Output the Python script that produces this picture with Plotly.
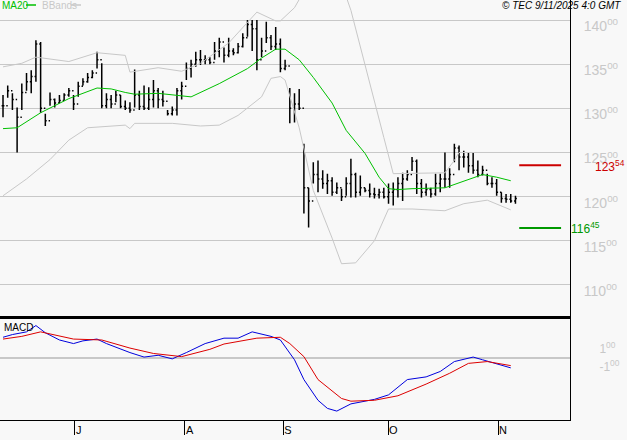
import plotly.graph_objects as go

# OHLC bars, one per trading day (index 0 = mid June)
highs = [131.5, 132.6, 131.7, 130.1, 132.8, 134.0, 134.3, 137.7, 137.5, 129.4,
         131.8, 131.1, 131.5, 131.7, 132.3, 131.5, 133.0, 133.4, 134.0, 134.3,
         136.4, 135.1, 131.7, 131.5, 132.0, 131.5, 130.9, 130.7, 134.4, 132.0,
         132.6, 132.4, 133.2, 132.3, 132.0, 129.8, 130.2, 132.3, 133.0, 135.2,
         135.5, 136.4, 136.6, 136.0, 135.8, 137.5, 138.0, 136.9, 138.0, 136.8,
         137.4, 138.5, 140.0, 140.0, 140.0, 138.0, 139.8, 138.3, 139.2, 137.9,
         135.5, 132.3, 131.7, 132.2, 126.0, 121.0, 123.9, 124.1, 123.0, 122.6,
         122.2, 121.6, 120.9, 122.2, 124.3, 122.7, 122.4, 121.0, 121.5, 121.0,
         120.9, 121.0, 121.5, 121.6, 122.2, 122.7, 123.0, 124.5, 124.2, 122.0,
         121.5, 121.0, 122.6, 122.6, 125.0, 123.2, 126.0, 125.8, 125.2, 125.0,
         125.0, 124.1, 123.5, 122.6, 122.2, 122.0, 120.5, 120.3, 120.3, 120.1]
lows = [129.0, 131.2, 129.8, 125.0, 129.8, 132.0, 131.7, 133.0, 129.5, 128.0,
        130.3, 130.1, 130.6, 130.9, 131.3, 129.8, 131.3, 132.6, 132.9, 133.4,
        134.5, 130.0, 130.0, 130.0, 130.7, 130.0, 129.8, 129.5, 130.1, 129.8,
        129.8, 129.8, 130.1, 130.0, 130.2, 129.2, 129.2, 129.2, 131.0, 133.2,
        133.5, 134.7, 134.9, 135.0, 135.0, 135.5, 135.8, 135.2, 135.8, 136.0,
        136.2, 136.9, 138.1, 136.5, 134.3, 135.8, 137.4, 136.6, 136.6, 134.1,
        134.3, 128.3, 128.4, 129.8, 118.1, 116.5, 121.5, 120.5, 120.9, 120.3,
        120.1, 120.3, 119.5, 120.1, 119.9, 119.9, 120.1, 120.5, 119.9, 119.8,
        119.8, 119.8, 119.2, 119.0, 119.9, 119.5, 121.8, 122.9, 120.3, 119.9,
        120.1, 119.9, 120.1, 120.5, 121.0, 121.0, 123.9, 123.0, 123.3, 122.7,
        122.6, 122.2, 122.4, 121.3, 121.0, 120.1, 119.3, 119.3, 119.3, 119.2]
closes = [130.3, 132.0, 131.0, 129.0, 131.8, 133.0, 133.6, 137.3, 130.0, 128.6,
          131.0, 130.6, 130.9, 131.5, 132.0, 130.5, 132.5, 133.0, 133.5, 134.0,
          135.5, 130.3, 131.0, 130.5, 131.5, 130.2, 130.0, 129.8, 131.5, 130.2,
          130.0, 131.0, 132.0, 131.0, 130.8, 129.4, 129.8, 132.0, 132.5, 134.5,
          135.0, 135.5, 135.5, 135.5, 135.2, 136.5, 137.5, 136.0, 136.5, 136.3,
          137.0, 138.0, 139.5, 139.0, 135.5, 136.5, 138.0, 137.0, 137.3, 134.5,
          134.8, 130.0, 130.5, 130.0, 121.0, 119.5, 122.5, 122.0, 121.5, 121.8,
          120.5, 121.0, 120.0, 121.5, 122.5, 120.5, 121.0, 120.7, 120.3, 120.2,
          120.5, 120.0, 120.5, 120.8, 121.5, 122.0, 122.5, 124.0, 121.5, 120.5,
          120.8, 120.3, 121.5, 122.0, 122.0, 122.5, 125.5, 124.5, 124.5, 123.5,
          123.0, 122.5, 123.0, 121.5, 121.5, 120.5, 119.8, 119.7, 119.5, 119.8]
opens = [closes[0]] + closes[:-1]
days = list(range(len(closes)))

# MA20
ma_days = [0, 3, 8, 14, 20, 23, 26, 28, 33, 36, 40, 46, 52, 55, 58, 60, 63, 66,
           70, 73, 77, 80, 82, 84, 87, 94, 99, 102, 105, 108]
ma_vals = [127.7, 127.8, 129.5, 131.1, 132.3, 132.2, 131.8, 131.6, 131.7, 131.5,
           131.3, 132.8, 134.5, 135.7, 136.7, 136.7, 135.5, 133.5, 130.6, 127.5,
           124.9, 122.2, 120.9, 120.8, 120.9, 121.0, 121.9, 122.5, 122.2, 121.8]

# Bollinger bands
up_days = [0, 4, 7, 14, 20, 26, 27, 33, 38, 42, 48, 52, 54, 58, 59, 62, 66, 71,
           74, 81, 83, 94, 96, 97, 108]
up_vals = [134.7, 135.1, 135.8, 135.3, 136.3, 136.0, 134.1, 134.6, 134.2, 135.1,
           137.4, 139.7, 140.9, 139.9, 139.9, 141.4, 145.1, 145.7, 141.1, 126.7,
           122.6, 122.7, 124.1, 125.0, 125.0]
lo_days = [0, 5, 10, 14, 18, 26, 27, 28, 36, 42, 46, 50, 55, 57, 59, 60, 63, 66,
           70, 72, 75, 79, 82, 87, 94, 98, 103, 108]
lo_vals = [120.1, 122.0, 124.2, 126.4, 127.8, 128.1, 127.7, 128.3, 128.3, 128.0,
           128.1, 129.2, 131.3, 133.4, 133.6, 133.2, 127.8, 120.7, 115.3, 112.4,
           112.5, 115.0, 118.6, 118.6, 118.4, 119.2, 119.6, 118.5]

# MACD and signal
macd_days = [0, 2, 5, 7, 9, 12, 15, 17, 20, 22, 27, 30, 33, 36, 39, 43, 47, 50,
             53, 57, 59, 62, 64, 67, 69, 71, 74, 79, 82, 86, 90, 93, 96, 100,
             102, 107, 108]
macd_vals = [2.3, 2.6, 2.9, 3.6, 2.8, 2.0, 1.6, 1.9, 2.1, 1.6, 0.6, 0.1, 0.3,
             -0.1, 0.6, 1.6, 2.2, 2.2, 2.9, 2.4, 2.0, -0.2, -2.4, -4.7, -5.6,
             -5.9, -5.1, -4.6, -4.1, -2.4, -2.1, -1.5, -0.4, 0.1, -0.2, -1.0, -1.1]
sig_days = [0, 4, 8, 15, 21, 27, 32, 38, 44, 47, 54, 59, 61, 64, 67, 72, 74, 79,
            84, 90, 95, 99, 103, 108]
sig_vals = [2.1, 2.4, 2.9, 2.1, 2.0, 1.1, 0.5, 0.15, 0.96, 1.55, 2.2, 2.3, 1.6,
            0.15, -2.4, -4.5, -4.8, -4.7, -4.2, -2.9, -1.7, -0.6, -0.4, -0.85]

resistance = 123.54
support = 116.45

price_ticks = [110, 115, 120, 125, 130, 135, 140]
month_pos = [15.3, 38.7, 59.6, 81.9, 105.3]
month_lbl = ['J', 'A', 'S', 'O', 'N']

GREY = '#c8c8c8'
BG = '#f8f8f8'

fig = go.Figure()

fig.add_trace(go.Scatter(x=up_days, y=up_vals, mode='lines', line=dict(color=GREY, width=1),
                         xaxis='x', yaxis='y', hoverinfo='skip'))
fig.add_trace(go.Scatter(x=lo_days, y=lo_vals, mode='lines', line=dict(color=GREY, width=1),
                         xaxis='x', yaxis='y', hoverinfo='skip'))
fig.add_trace(go.Scatter(x=ma_days, y=ma_vals, mode='lines', line=dict(color='#00c000', width=1),
                         xaxis='x', yaxis='y'))
fig.add_trace(go.Ohlc(x=days, open=opens, high=highs, low=lows, close=closes,
                      increasing_line_color='black', decreasing_line_color='black',
                      line_width=1.5, tickwidth=0.3, xaxis='x', yaxis='y'))

fig.add_trace(go.Scatter(x=macd_days, y=macd_vals, mode='lines', line=dict(color='#0000dd', width=1),
                         xaxis='x2', yaxis='y2'))
fig.add_trace(go.Scatter(x=sig_days, y=sig_vals, mode='lines', line=dict(color='#dd0000', width=1),
                         xaxis='x2', yaxis='y2'))

# level lines right of the last bar
fig.add_shape(type='line', xref='x', yref='y', x0=109.8, x1=118.7, y0=resistance, y1=resistance,
              line=dict(color='#cc0000', width=2))
fig.add_shape(type='line', xref='x', yref='y', x0=109.8, x1=118.7, y0=support, y1=support,
              line=dict(color='#009900', width=2))


def lvl(v):
    s = '%.2f' % v
    a, b = s.split('.')
    return a + '<sup>' + b + '</sup>'


fig.add_annotation(xref='paper', yref='y', x=593/627, y=resistance, text=lvl(resistance), showarrow=False,
                   xanchor='left', yshift=-1, font=dict(color='#cc0000', size=12))
fig.add_annotation(xref='paper', yref='y', x=569/627, y=support, text=lvl(support), showarrow=False,
                   xanchor='left', yshift=0, font=dict(color='#009900', size=12))

# legend texts
fig.add_annotation(xref='paper', yref='paper', x=0, y=1, text='MA20', showarrow=False,
                   xanchor='left', yanchor='top', yshift=2, font=dict(color='#00c000', size=10))
fig.add_shape(type='line', xref='paper', yref='paper', x0=26/627, x1=36/627, y0=1-5/440, y1=1-5/440,
              line=dict(color='#00c000', width=1.5))
fig.add_annotation(xref='paper', yref='paper', x=40/627, y=1, text='BBands', showarrow=False,
                   xanchor='left', yanchor='top', yshift=2, font=dict(color=GREY, size=10))
fig.add_shape(type='line', xref='paper', yref='paper', x0=71/627, x1=81/627, y0=1-5/440, y1=1-5/440,
              line=dict(color=GREY, width=1.5))
fig.add_annotation(xref='paper', yref='paper', x=1, y=1, text='<i>© TEC 9/11/2025 4:0 GMT</i>',
                   showarrow=False, xanchor='right', yanchor='top', xshift=-4, yshift=2,
                   font=dict(color='black', size=10))
fig.add_annotation(xref='paper', yref='paper', x=2/627, y=1-320/440, text='MACD', showarrow=False,
                   xanchor='left', yanchor='top', font=dict(color='black', size=10))

xr = [-0.64, 120.6]
fig.update_layout(
    width=627, height=440, margin=dict(l=0, r=0, t=0, b=0, autoexpand=False),
    paper_bgcolor=BG, plot_bgcolor=BG, showlegend=False,
    font=dict(family='Liberation Sans, Arial, sans-serif'),
    xaxis=dict(domain=[0, 570/627], range=xr, showticklabels=False, showgrid=False, zeroline=False,
               rangeslider=dict(visible=False), anchor='y', showline=True, linecolor='black', linewidth=3),
    yaxis=dict(domain=[1-316/440, 1], range=[106.48, 142.27], side='right', tickvals=price_ticks,
               ticktext=['%d<sup>00</sup>' % v for v in price_ticks],
               tickfont=dict(color=GREY, size=14), ticklabelshift=6, ticklabelstandoff=10,
               gridcolor=GREY, gridwidth=1,
               zeroline=False, showline=True, linecolor='black', linewidth=1, anchor='x', ticks=''),
    xaxis2=dict(domain=[0, 570/627], range=xr, tickvals=month_pos, ticktext=month_lbl, ticks='outside',
                ticklen=14, tickcolor='black', ticklabelposition='outside right', showgrid=False,
                zeroline=False, showline=True, linecolor='black', mirror=False, anchor='y2',
                tickfont=dict(color='black', size=11)),
    yaxis2=dict(domain=[1-420/440, 1-318/440], range=[-6.89, 4.44], side='right', tickvals=[1, -1],
                ticktext=['1<sup>00</sup>', '-1<sup>00</sup>'], tickfont=dict(color=GREY, size=12),
                ticklabelstandoff=26, showgrid=False, zeroline=True, zerolinecolor=GREY, showline=True,
                linecolor='black', anchor='x2', ticks=''),
)

fig.write_html("out.html", config={'displayModeBar': False},
               post_script="document.body.style.margin='0';")
